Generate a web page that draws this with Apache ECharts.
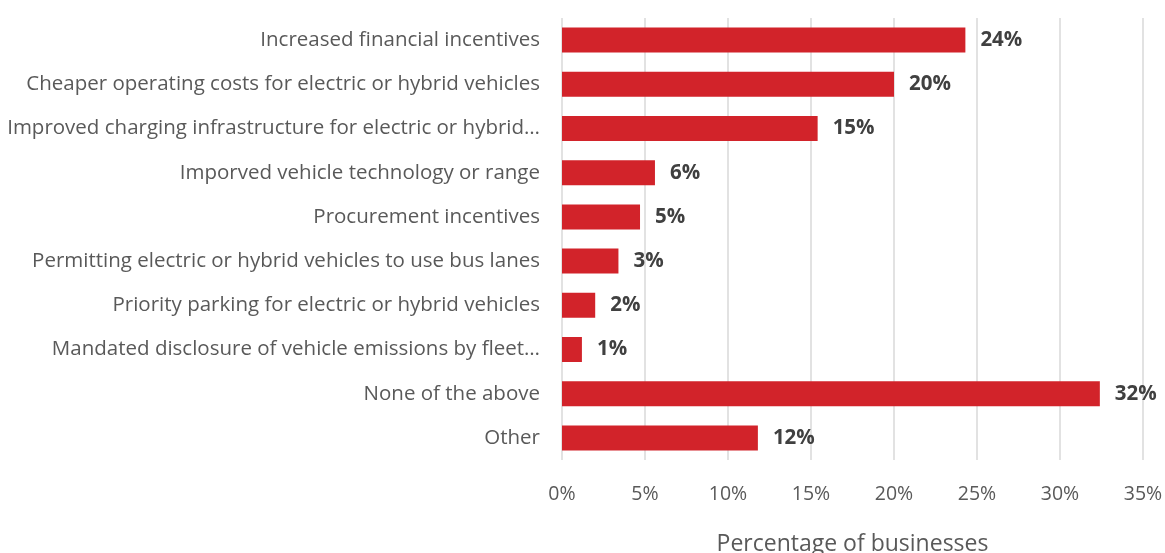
<!DOCTYPE html>
<html>
<head>
<meta charset="utf-8">
<style>
  html, body { margin: 0; padding: 0; background: #ffffff; }
  #chart { width: 1165px; height: 553px; }
</style>
<script src="https://cdn.jsdelivr.net/npm/echarts@6/dist/echarts.min.js"></script>
</head>
<body>
<div id="chart"></div>
<script>
// Measures that would encourage businesses to adopt electric or hybrid vehicles
const categories = [
  'Increased financial incentives',
  'Cheaper operating costs for electric or hybrid vehicles',
  'Improved charging infrastructure for electric or hybrid…',
  'Imporved vehicle technology or range',
  'Procurement incentives',
  'Permitting electric or hybrid vehicles to use bus lanes',
  'Priority parking for electric or hybrid vehicles',
  'Mandated disclosure of vehicle emissions by fleet…',
  'None of the above',
  'Other'
];

// Share of businesses (%)
const shares = [24.3, 20.0, 15.4, 5.6, 4.7, 3.4, 2.0, 1.2, 32.4, 11.8];

const xTicks = { min: 0, max: 35, interval: 5 };

const fontFamily = '"Open Sans", "Noto Sans", sans-serif';

const chart = echarts.init(document.getElementById('chart'), null, { renderer: 'canvas' });

chart.setOption({
  animation: false,
  backgroundColor: '#ffffff',
  textStyle: { fontFamily: fontFamily },
  grid: {
    left: 562, right: 22, top: 18, bottom: 93,
    containLabel: false,
    outerBoundsMode: 'none'
  },
  xAxis: {
    type: 'value',
    min: xTicks.min,
    max: xTicks.max,
    interval: xTicks.interval,
    name: 'Percentage of businesses',
    nameLocation: 'middle',
    nameGap: 73,
    nameTextStyle: { color: '#595959', fontSize: 23, fontFamily: fontFamily },
    axisLine: { show: false },
    axisTick: { show: false },
    axisLabel: {
      color: '#595959',
      fontSize: 19.5,
      margin: 24,
      formatter: '{value}%'
    },
    splitLine: { show: true, lineStyle: { color: '#d9d9d9', width: 1.5 } }
  },
  yAxis: {
    type: 'category',
    data: categories,
    inverse: true,
    axisLine: { show: false },
    axisTick: { show: false },
    axisLabel: { color: '#595959', fontSize: 20.5, margin: 22 }
  },
  series: [{
    type: 'bar',
    data: shares,
    barWidth: 25,
    itemStyle: { color: '#d2232a' },
    label: {
      show: true,
      position: 'right',
      distance: 15,
      color: '#404040',
      fontSize: 20.5,
      fontWeight: 'bold',
      formatter: p => Math.round(p.value) + '%'
    }
  }]
});
</script>
</body>
</html>
